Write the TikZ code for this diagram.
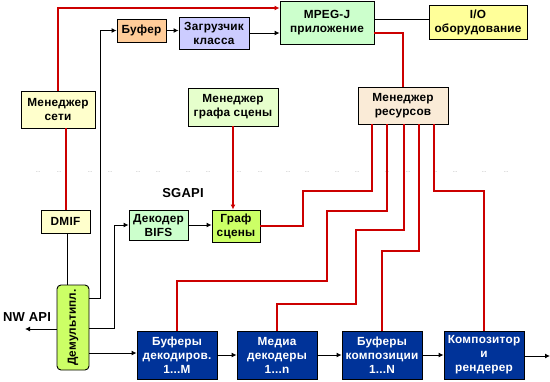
\documentclass[tikz,border=0pt]{standalone}
\usepackage{fontspec}
\setmainfont{Liberation Sans}[LetterSpace=2]
\usetikzlibrary{arrows.meta}
\definecolor{mpgreen}{HTML}{CCFFCC}
\definecolor{mpyellow}{HTML}{FFFF99}
\definecolor{mporange}{HTML}{FFCC99}
\definecolor{mplilac}{HTML}{CCCCFF}
\definecolor{mpcream}{HTML}{FFFFCC}
\definecolor{mpmint}{HTML}{E6FFCC}
\definecolor{mpbeige}{HTML}{FAEBD7}
\definecolor{mplime}{HTML}{CCFF66}
\definecolor{mpblue}{HTML}{003399}
\definecolor{ctlred}{HTML}{CC0000}
\begin{document}
\begin{tikzpicture}[x=1pt,y=-1pt,>={Latex[length=5pt,width=5pt]},
  box/.style={draw,line width=0.9pt,align=center,inner sep=0pt,
    font=\bfseries\fontsize{11.8}{14}\selectfont},
  bluebox/.style={box,fill=mpblue,text=white,minimum width=80pt,minimum height=48pt},
  link/.style={line width=0.9pt},
  ctl/.style={line width=1.1pt,draw=ctlred},
  dotrow/.style={font=\tiny,text=gray,inner sep=0pt}]
\useasboundingbox (0,0) rectangle (550,381);

\node[box,fill=mpgreen,minimum width=94pt,minimum height=43pt] (mpegj) at (327,22.5) {MPEG-J\\приложение};
\node[box,fill=mpyellow,minimum width=98pt,minimum height=34pt] (io) at (478,22) {I/O\\оборудование};
\node[box,fill=mporange,minimum width=49pt,minimum height=23pt] (buf) at (141.5,30.5) {Буфер};
\node[box,fill=mplilac,minimum width=70pt,minimum height=32pt] (loader) at (214,33) {Загрузчик\\класса};
\node[box,fill=mpcream,minimum width=74pt,minimum height=37pt] (netmgr) at (58,109.5) {Менеджер\\сети};
\node[box,fill=mpmint,minimum width=90pt,minimum height=38pt] (sgmgr) at (233,107) {Менеджер\\графа сцены};
\node[box,fill=mpbeige,minimum width=90pt,minimum height=37pt] (resmgr) at (403,105.5) {Менеджер\\ресурсов};
\node[box,fill=mpcream,minimum width=49pt,minimum height=23pt] (dmif) at (65.5,221.5) {DMIF};
\node[box,fill=mpgreen,minimum width=59pt,minimum height=30pt] (bifs) at (158.5,225) {Декодер\\BIFS};
\node[box,fill=mplime,minimum width=48pt,minimum height=32pt] (scene) at (236,226) {Граф\\сцены};
\node[box,fill=mplime,rounded corners=4pt,minimum width=32pt,minimum height=85pt] (demux) at (73,327.5) {};
\node[rotate=90,font=\bfseries\fontsize{11.8}{14}\selectfont] (demuxlabel) at (demux.center) {Демультипл.};
\node[bluebox] (decbuf) at (177,355) {Буферы\\декодиров.\\1...M};
\node[bluebox] (mdec) at (277,355) {Медиа\\декодеры\\1...n};
\node[bluebox] (cbuf) at (382,355) {Буферы\\композиции\\1...N};
\node[bluebox] (comp) at (484,355) {Композитор\\и\\рендерер};

\node[font=\bfseries\fontsize{13}{15}\selectfont] (nwapi) at (27,317) {NW API};
\node[font=\bfseries\fontsize{13}{15}\selectfont] (sgapi) at (183,193) {SGAPI};
\foreach \d in {38,59,90,110,138,158,188,208,239,260,288,307,337,357,387,408,435,455,484,506}
  \node[dotrow] (dot\d) at (\d,172) {\dots};

\coordinate (nwend) at (25,329);
\coordinate (out) at (550,356);

\draw[ctl,->] (netmgr.north) |- (mpegj.west |- 0,8);
\draw[link,->] (buf.east) -- (buf.east -| loader.west);
\draw[link,->] (loader.east) -- (loader.east -| mpegj.west);
\draw[link] (mpegj.east |- 0,19) -- (io.west |- 0,19);
\draw[ctl] (mpegj.east |- 0,33) -| (resmgr.north);
\draw[link,->] (demux.east |- 0,298) -- (100,298) |- (buf.west);
\draw[ctl] (dmif.north -| 66,0) -- (netmgr.south -| 66,0);
\draw[link] (dmif.south -| 67,0) -- (demux.north -| 67,0);
\draw[ctl,->] (sgmgr.south) -- (sgmgr.south |- scene.north);
\draw[link,->] (bifs.east) -- (bifs.east -| scene.west);
\draw[link,->] (demux.east |- 0,328) -- (114,328) |- (bifs.west);
\draw[link,->] (demux.west |- nwend) -- (nwend);
\draw[link,->] (demux.east |- 0,353) -- (decbuf.west |- 0,353);
\draw[link,->] (decbuf) -- (mdec);
\draw[link,->] (mdec) -- (cbuf);
\draw[link,->] (cbuf) -- (comp);
\draw[link,->] (comp.east |- out) -- (out);

\draw[ctl] (scene.east) -| (303,191) -| (resmgr.south -| 372,0);
\draw[ctl] (decbuf.north) |- (327,281) |- (387,211) -- (resmgr.south -| 387,0);
\draw[ctl] (mdec.north) |- (356,304) |- (404,230) -- (resmgr.south -| 404,0);
\draw[ctl] (cbuf.north) |- (419,251) -- (resmgr.south -| 419,0);
\draw[ctl] (comp.north) |- (434,191) -- (resmgr.south -| 434,0);
\end{tikzpicture}
\end{document}
